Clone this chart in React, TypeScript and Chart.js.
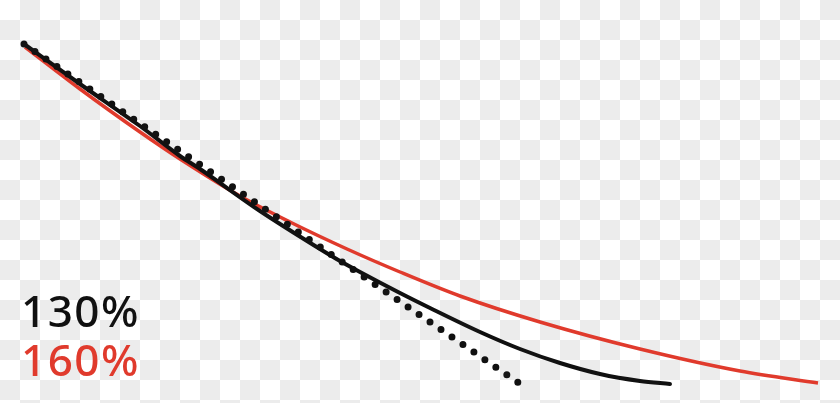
import React, { useEffect, useRef } from "react";
import { Chart, registerables } from "chart.js";

Chart.register(...registerables);

// Curve values (chart units: x 0–840 across, y 0–403 downward)
const solidBlackX = [24, 80, 140, 180, 200, 260, 320, 340, 360, 400, 430, 480, 520, 560, 600, 640, 670];
const solidBlackY = [44, 84, 126, 156, 169, 211, 249, 261, 272, 293, 308, 332, 349, 363, 374, 381, 384];

const dottedBlackX = [24, 519];
const dottedBlackY = [44, 383];

const redX = [25, 80, 140, 180, 240, 290, 347, 400, 460, 540, 640, 740, 818];
const redY = [47, 89, 132, 159, 196, 222, 249, 272, 296, 322, 349, 371, 383];

const label130 = "130%";
const label160 = "160%";

const BLACK = "#111111";
const RED = "#e03a2c";

const toPoints = (xs: number[], ys: number[]) => xs.map((x, i) => ({ x, y: ys[i] }));

export default function App() {
  const ref = useRef<HTMLCanvasElement | null>(null);

  useEffect(() => {
    if (!ref.current) return;
    const chart = new Chart(ref.current, {
      type: "line",
      data: {
        datasets: [
          {
            label: "dotted",
            data: toPoints(dottedBlackX, dottedBlackY),
            borderColor: BLACK,
            borderWidth: 7,
            borderDash: [0, 13.3],
            borderCapStyle: "round",
            pointRadius: 0,
            fill: false,
            order: 0,
          },
          {
            label: "130%",
            data: toPoints(solidBlackX, solidBlackY),
            borderColor: BLACK,
            borderWidth: 4,
            borderCapStyle: "round",
            cubicInterpolationMode: "monotone",
            pointRadius: 0,
            fill: false,
            order: 1,
          },
          {
            label: "160%",
            data: toPoints(redX, redY),
            borderColor: RED,
            borderWidth: 3.5,
            borderCapStyle: "butt",
            cubicInterpolationMode: "monotone",
            pointRadius: 0,
            fill: false,
            order: 2,
          },
        ],
      },
      options: {
        animation: false,
        responsive: false,
        maintainAspectRatio: false,
        layout: { padding: 0 },
        plugins: { legend: { display: false }, tooltip: { enabled: false } },
        scales: {
          x: { type: "linear", min: 0, max: 840, display: false },
          y: { type: "linear", min: 0, max: 403, reverse: true, display: false },
        },
      },
    });
    return () => chart.destroy();
  }, []);

  const textStyle: React.CSSProperties = {
    position: "absolute",
    left: 21,
    fontFamily: "'Noto Sans', sans-serif",
    fontWeight: 500,
    fontSize: 44,
    lineHeight: "44px",
    letterSpacing: 1.5,
    whiteSpace: "nowrap",
  };

  return (
    <div
      style={{
        position: "fixed",
        left: 0,
        top: 0,
        width: 840,
        height: 403,
        overflow: "hidden",
        backgroundColor: "#ffffff",
        backgroundImage: "repeating-conic-gradient(#ececec 0 25%, #ffffff 0 50%)",
        backgroundSize: "40px 40px",
      }}
    >
      <canvas ref={ref} width={840} height={403} style={{ position: "absolute", left: 0, top: 0 }} />
      <div style={{ ...textStyle, top: 288, color: BLACK }}>{label130}</div>
      <div style={{ ...textStyle, top: 337, color: RED }}>{label160}</div>
    </div>
  );
}
